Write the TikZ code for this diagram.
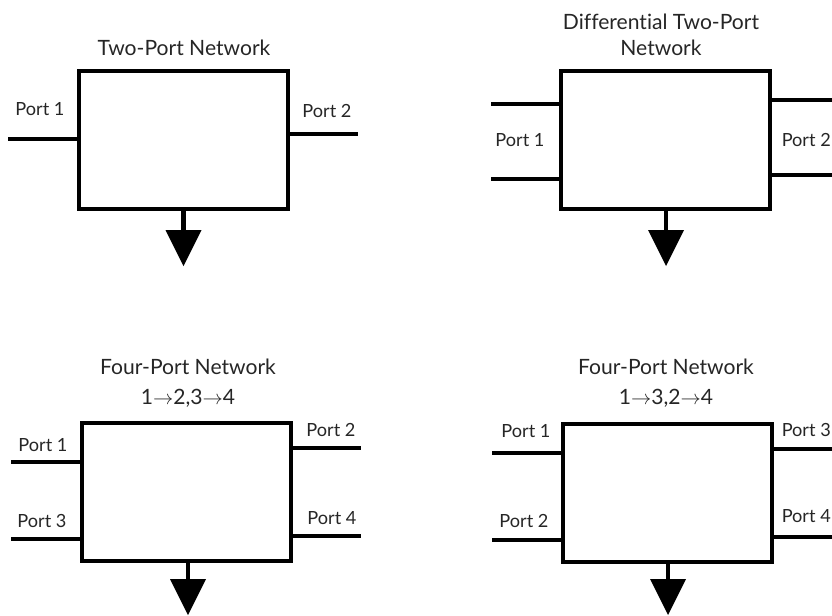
\documentclass[tikz,border=0pt]{standalone}
\usepackage{fontspec}
\setmainfont{Lato}[Ligatures=NoCommon]
\usetikzlibrary{arrows.meta}

\begin{document}
\begin{tikzpicture}[x=0.3mm, y=-0.3mm,
	network/.style={draw, line width=1.2mm, minimum width=62.7mm, minimum height=41.4mm, inner sep=0pt},
	lead/.style={line width=1.2mm},
	gnd/.style={line width=1.4mm, -{Triangle[width=10.8mm, length=10.8mm, line width=0pt]}},
	txt/.style={font=\fontsize{18}{22}\selectfont, text=black!85, inner sep=0pt, align=center},
	portname/.style={txt, font=\fontsize{15.5}{18}\selectfont}]

	\useasboundingbox (0, 0) rectangle (832, 615);

	% two-port
	\draw (183.5, 140) node (box1) [network] {};
	\draw (184, 48) node (title1) [txt] {Two-Port Network};
	\draw (40, 109) node (lbl1a) [portname] {Port 1};
	\draw (327, 111) node (lbl1b) [portname] {Port 2};
	\coordinate (p1a) at (8, 139);
	\coordinate (p1b) at (358, 134);
	\coordinate (g1) at (183.5, 266);
	\draw [lead] (p1a) -- (p1a -| box1.west);
	\draw [lead] (box1.east |- p1b) -- (p1b);
	\draw [gnd] (box1.south) -- (g1);

	% differential two-port
	\draw (665, 140) node (box2) [network] {};
	\draw (661, 35) node (title2) [txt] {Differential Two-Port\\Network};
	\draw (520, 140) node (lbl2a) [portname] {Port 1};
	\draw (831, 140) node (lbl2b) [portname, anchor=east] {Port 2};
	\coordinate (p2a) at (491, 104);
	\coordinate (p2b) at (491, 179);
	\coordinate (p2c) at (832, 100);
	\coordinate (p2d) at (832, 175);
	\coordinate (g2) at (666, 266);
	\draw [lead] (p2a) -- (p2a -| box2.west);
	\draw [lead] (p2b) -- (p2b -| box2.west);
	\draw [lead] (box2.east |- p2c) -- (p2c);
	\draw [lead] (box2.east |- p2d) -- (p2d);
	\draw [gnd] (box2.south -| g2) -- (g2);

	% four-port, 1->2, 3->4
	\draw (186.5, 491.5) node (box3) [network] {};
	\draw (188, 367) node (title3) [txt] {Four-Port Network};
	\draw (188, 398) node (pair3) [txt] {1$\rightarrow$2,3$\rightarrow$4};
	\draw (43, 445) node (lbl3a) [portname] {Port 1};
	\draw (42, 521) node (lbl3c) [portname] {Port 3};
	\draw (331, 430) node (lbl3b) [portname] {Port 2};
	\draw (332, 518) node (lbl3d) [portname] {Port 4};
	\coordinate (p3a) at (11, 462);
	\coordinate (p3c) at (11, 539);
	\coordinate (p3b) at (361, 448);
	\coordinate (p3d) at (361, 536);
	\coordinate (g3) at (188, 615);
	\draw [lead] (p3a) -- (p3a -| box3.west);
	\draw [lead] (p3c) -- (p3c -| box3.west);
	\draw [lead] (box3.east |- p3b) -- (p3b);
	\draw [lead] (box3.east |- p3d) -- (p3d);
	\draw [gnd] (box3.south -| g3) -- (g3);

	% four-port, 1->3, 2->4
	\draw (667.5, 492.5) node (box4) [network] {};
	\draw (666, 367) node (title4) [txt] {Four-Port Network};
	\draw (666, 398) node (pair4) [txt] {1$\rightarrow$3,2$\rightarrow$4};
	\draw (526, 431) node (lbl4a) [portname] {Port 1};
	\draw (524, 521) node (lbl4b) [portname] {Port 2};
	\draw (831, 430) node (lbl4c) [portname, anchor=east] {Port 3};
	\draw (831, 516) node (lbl4d) [portname, anchor=east] {Port 4};
	\coordinate (p4a) at (492, 453);
	\coordinate (p4b) at (492, 540);
	\coordinate (p4c) at (832, 449);
	\coordinate (p4d) at (832, 537);
	\coordinate (g4) at (668, 615);
	\draw [lead] (p4a) -- (p4a -| box4.west);
	\draw [lead] (p4b) -- (p4b -| box4.west);
	\draw [lead] (box4.east |- p4c) -- (p4c);
	\draw [lead] (box4.east |- p4d) -- (p4d);
	\draw [gnd] (box4.south -| g4) -- (g4);

\end{tikzpicture}
\end{document}
